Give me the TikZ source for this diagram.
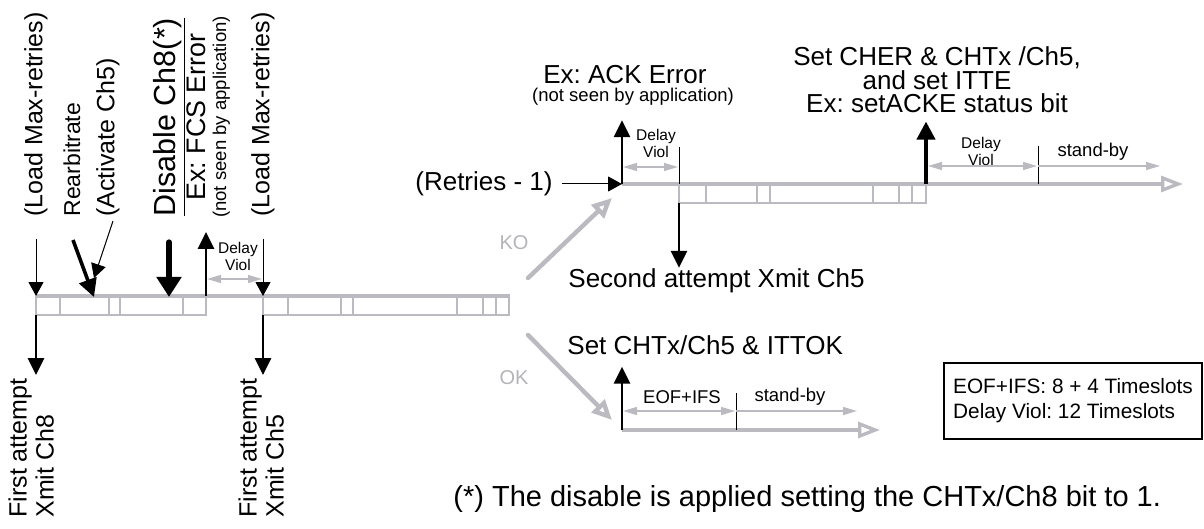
\documentclass[tikz,border=0pt]{standalone}
\usepackage{fontspec}
\setmainfont{Liberation Sans}
\usetikzlibrary{arrows.meta}
\definecolor{bargray}{RGB}{186,186,192}
\definecolor{kogray}{RGB}{180,180,184}
\newcommand{\setfs}[2]{\fontsize{#1}{#2}\selectfont\lineskiplimit=-20pt}
\tikzset{
  bar/.style={bargray, line width=1.7pt},
  cell/.style={bargray, line width=1.2pt},
  tick/.style={black, line width=0.5pt},
  thinarr/.style={-{Triangle[length=7pt,width=7.5pt]}, line width=0.5pt},
  midarr/.style={-{Triangle[length=8.5pt,width=8pt]}, line width=1.4pt},
  fatarr/.style={-{Triangle[length=10pt,width=12pt]}, line width=2.6pt, line cap=round},
  dimarr/.style={{Triangle[length=7pt,width=4pt]}-{Triangle[length=7pt,width=4pt]}, bargray, line width=0.7pt},
  runarr/.style={-{Triangle[length=7pt,width=4pt]}, bargray, line width=0.7pt},
  greyarr/.style={-{Triangle[open,length=10pt,width=9pt]}, bargray, line width=2.2pt, line cap=round},
  endarr/.style={-{Triangle[open,length=11pt,width=8pt]}},
  vtext/.style={rotate=90, inner sep=0pt},
  lbl/.style={inner sep=0pt, font=\setfs{13}{15}},
  note/.style={inner sep=0pt, font=\setfs{9.25}{11}},
  delay/.style={inner sep=0pt, align=center, font=\setfs{7.75}{8.5}}
}
\begin{document}
\frenchspacing
\begin{tikzpicture}[x=0.5pt, y=-0.5pt]
\useasboundingbox (0,0) rectangle (1204,529);

% first attempt frame, then the frame of Ch5
\draw[bar] (36,296) -- (510,296);
\draw[cell] (36,296) -- (36,315) -- (206,315) -- (206,296);
\draw[cell] (263,296) -- (263,315) -- (509,315) -- (509,296);
\foreach \x in {60,109,120,183,288,341,353,457,483,496}
  \draw[cell] (\x,296) -- (\x,315);

% second attempt (KO)
\draw[bar, endarr] (622,184) -- (1183,184);
\draw[cell] (679,184) -- (679,203) -- (926,203) -- (926,184);
\foreach \x in {706,757,770,873,899,912}
  \draw[cell] (\x,184) -- (\x,203);

% OK branch
\draw[bar, endarr] (622,430) -- (880,430);

\coordinate (a0) at (36,296);
\coordinate (a0b) at (36,315);
\coordinate (a1) at (263,296);
\coordinate (a1b) at (263,315);
\coordinate (rb0) at (73,240);
\coordinate (rb) at (94,297);
\coordinate (ac0) at (113,221);
\coordinate (ac) at (94,278);
\coordinate (ds0) at (169,242);
\coordinate (ds) at (169,297);
\coordinate (fe) at (206,296);
\coordinate (fe1) at (206,232);
\coordinate (b0) at (622,184);
\coordinate (b1) at (679,184);
\coordinate (b1b) at (679,203);
\coordinate (b2) at (926,184);
\coordinate (b3) at (1038,184);
\coordinate (c0) at (622,430);
\coordinate (c1) at (736,430);

% rotated labels on the left
\node[vtext, anchor=west, font=\setfs{12.5}{14}] (load1) at (36,217) {(Load Max-retries)};
\node[vtext, anchor=west, font=\setfs{11.5}{13}] (rearb) at (72,217) {Rearbitrate};
\node[vtext, anchor=west, font=\setfs{12.5}{14}] (activ) at (108,217) {(Activate Ch5)};
\node[vtext, anchor=base, font=\setfs{15.25}{17}] (disab) at (175,117) {\underline{Disable Ch8(*)}};
\node[vtext, anchor=base, font=\setfs{13.4}{15}] (fcs) at (205,117) {Ex: FCS Error};
\node[vtext, anchor=base, font=\setfs{9.25}{11}] (fcsnote) at (226,117) {(not seen by application)};
\node[vtext, anchor=west, font=\setfs{12.5}{14}] (load2) at (263,217) {(Load Max-retries)};
\node[vtext, anchor=north west, align=left, font=\setfs{12.5}{13.5}] (xmit8) at (8,518) {First attempt\\Xmit Ch8};
\node[vtext, anchor=north west, align=left, font=\setfs{12.5}{13.5}] (xmit5) at (238,518) {First attempt\\Xmit Ch5};

\draw[thinarr, shorten <=11pt] (load1.west) -- (a0);
\draw[midarr, line width=1.8pt, -{Triangle[length=9pt,width=9pt]}] (rb0) -- (rb);
\draw[thinarr] (ac0) -- (ac);
\draw[fatarr] (ds0) -- (ds);
\draw[midarr] (fe) -- (fe1);
\draw[thinarr, shorten <=11pt] (load2.west) -- (a1);
\draw[midarr] (a0b) -- (36,375);
\draw[midarr] (a1b) -- (263,375);

\node[delay] (dvA) at (238,256) {Delay\\Viol};
\draw[dimarr] (207,279) -- (262,279);

% KO / OK
\draw[greyarr] (528,278) -- (612,198);
\node[inner sep=0pt, text=kogray, font=\setfs{10}{12}] (ko) at (514,243) {KO};
\draw[greyarr] (528,335) -- (612,420);
\node[inner sep=0pt, text=kogray, font=\setfs{10}{12}] (ok) at (514,378) {OK};

% retry
\node[lbl, anchor=east] (retr) at (553,184) {(Retries - 1)};
\draw[thinarr, shorten <=4.5pt] (retr.east) -- (b0);
\node[lbl, anchor=base] (ackerr) at (625,84) {Ex: ACK Error};
\node[note, anchor=base] (acknote) at (633,102) {(not seen by application)};
\draw[midarr, shorten >=7pt] (b0) -- (b0 |- acknote.south);
\node[delay] (dvB) at (656,143) {Delay\\Viol};
\draw[dimarr] (623,167) -- (678,167);
\draw[tick] (b1) -- (679,147);
\node[lbl, anchor=base west] (second) at (568,287) {Second attempt Xmit Ch5};
\draw[midarr] (b1b) -- (b1b |- second.north);

\node[lbl, align=center, font=\setfs{13}{11.8}] (setcher) at (937,80) {Set CHER \& CHTx /Ch5,\\and set ITTE\\Ex: setACKE status bit};
\draw[midarr, line width=2pt, -{Triangle[length=9pt,width=9pt]}, shorten >=4pt] (b2) -- (b2 |- setcher.south);
\node[delay] (dvC) at (981,151) {Delay\\Viol};
\draw[dimarr] (928,166) -- (1037,166);
\draw[tick] (b3) -- (1038,146);
\node[note] (sbB) at (1093,152) {stand-by};
\draw[runarr] (1038,166) -- (1160,166);

% ok
\node[lbl, anchor=base west] (setok) at (567,354) {Set CHTx/Ch5 \& ITTOK};
\draw[midarr, shorten >=6pt] (c0) -- (c0 |- setok.south);
\node[note] (eof) at (682,397) {EOF+IFS};
\node[note] (sbC) at (790,397) {stand-by};
\draw[dimarr] (623,411) -- (735,411);
\draw[tick] (c1) -- (736,393);
\draw[runarr] (736,411) -- (857,411);

\node[draw, line width=1pt, anchor=north west, minimum width=129pt, minimum height=38pt,
  align=left, font=\setfs{10.4}{12.5}] (legend) at (943,362) {EOF+IFS: 8 + 4 Timeslots\\Delay Viol: 12 Timeslots};

\node[inner sep=0pt, anchor=base west, font=\setfs{14.5}{16}] (foot) at (453,506) {(*) The disable is applied setting the CHTx/Ch8 bit to 1.};
\end{tikzpicture}
\end{document}
